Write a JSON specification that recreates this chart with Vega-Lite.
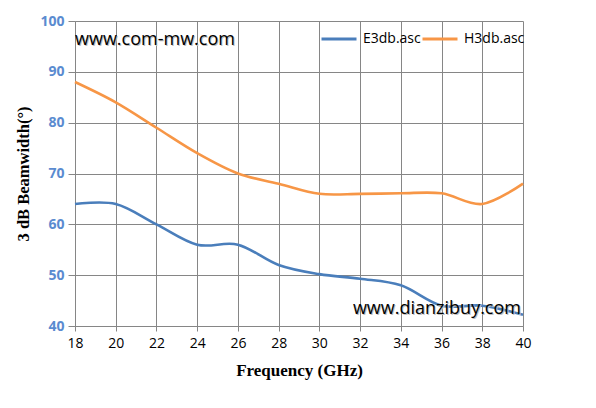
{
  "$schema": "https://vega.github.io/schema/vega-lite/v6.json",
  "width": 448,
  "height": 305,
  "padding": {"left": 75, "top": 21, "right": 73, "bottom": 82},
  "autosize": {"type": "none"},
  "background": "white",
  "config": {
    "view": {"stroke": null},
    "axis": {"gridColor": "#868686", "gridOpacity": 1, "gridWidth": 1, "domainColor": "#868686", "tickColor": "#868686"}
  },
  "datasets": {
    "curves": [
      {"freq": 18, "bw": 64, "series": "E3db.asc"},
      {"freq": 20, "bw": 64, "series": "E3db.asc"},
      {"freq": 22, "bw": 60, "series": "E3db.asc"},
      {"freq": 24, "bw": 56, "series": "E3db.asc"},
      {"freq": 26, "bw": 56, "series": "E3db.asc"},
      {"freq": 28, "bw": 52, "series": "E3db.asc"},
      {"freq": 30, "bw": 50.2, "series": "E3db.asc"},
      {"freq": 32, "bw": 49.3, "series": "E3db.asc"},
      {"freq": 34, "bw": 48, "series": "E3db.asc"},
      {"freq": 36, "bw": 44, "series": "E3db.asc"},
      {"freq": 38, "bw": 44, "series": "E3db.asc"},
      {"freq": 40, "bw": 42.2, "series": "E3db.asc"},
      {"freq": 18, "bw": 88, "series": "H3db.asc"},
      {"freq": 20, "bw": 84, "series": "H3db.asc"},
      {"freq": 22, "bw": 79, "series": "H3db.asc"},
      {"freq": 24, "bw": 74, "series": "H3db.asc"},
      {"freq": 26, "bw": 70, "series": "H3db.asc"},
      {"freq": 28, "bw": 68, "series": "H3db.asc"},
      {"freq": 30, "bw": 66, "series": "H3db.asc"},
      {"freq": 32, "bw": 66, "series": "H3db.asc"},
      {"freq": 34, "bw": 66.1, "series": "H3db.asc"},
      {"freq": 36, "bw": 66.1, "series": "H3db.asc"},
      {"freq": 38, "bw": 64, "series": "H3db.asc"},
      {"freq": 40, "bw": 68, "series": "H3db.asc"}
    ],
    "noteLeft": [
      {"freq": 18, "bw": 96.3, "label": "www.com-mw.com"}
    ],
    "noteRight": [
      {"freq": 40, "bw": 43.4, "label": "www.dianzibuy.com"}
    ]
  },
  "layer": [
    {
      "data": {"name": "curves"},
      "mark": {"type": "line", "interpolate": "cardinal", "strokeWidth": 2.6},
      "encoding": {
        "x": {
          "field": "freq", "type": "quantitative",
          "scale": {"domain": [18, 40], "nice": false, "zero": false},
          "axis": {
            "values": [18, 20, 22, 24, 26, 28, 30, 32, 34, 36, 38, 40],
            "title": "Frequency (GHz)",
            "titleFont": "Liberation Serif", "titleFontSize": 17, "titleFontWeight": "bold", "titleColor": "black",
            "titlePadding": 12,
            "labelFont": "Open Sans", "labelFontSize": 14, "labelColor": "black", "labelPadding": 5,
            "tickSize": 5, "grid": true, "labelFlush": false
          }
        },
        "y": {
          "field": "bw", "type": "quantitative",
          "scale": {"domain": [40, 100], "nice": false, "zero": false},
          "axis": {
            "values": [40, 50, 60, 70, 80, 90, 100],
            "title": "3 dB Beamwidth(°)",
            "titleFont": "Liberation Serif", "titleFontSize": 16.5, "titleFontWeight": "bold", "titleColor": "black",
            "titlePadding": 8,
            "labelFont": "Open Sans", "labelFontSize": 14, "labelFontWeight": "bold", "labelColor": "#5a8bd0", "labelPadding": 4,
            "tickSize": 7, "grid": true, "labelFlush": false
          }
        },
        "color": {
          "field": "series", "type": "nominal",
          "scale": {"domain": ["E3db.asc", "H3db.asc"], "range": ["#4a7ebb", "#f79646"]},
          "legend": {
            "title": null, "orient": "none", "legendX": 245, "legendY": -1, "direction": "horizontal", "columns": 2,
            "symbolType": "stroke", "symbolSize": 1225, "symbolStrokeWidth": 3,
            "labelFont": "Open Sans", "labelFontSize": 14, "labelColor": "black", "labelOffset": 5, "columnPadding": -10
          }
        }
      }
    },
    {
      "data": {"name": "noteLeft"},
      "mark": {"type": "text", "font": "Open Sans", "fontSize": 18, "baseline": "middle", "align": "left", "color": "#c0c0c0", "dx": 1, "dy": 1},
      "encoding": {
        "x": {"field": "freq", "type": "quantitative"},
        "y": {"field": "bw", "type": "quantitative"},
        "text": {"field": "label"}
      }
    },
    {
      "data": {"name": "noteLeft"},
      "mark": {"type": "text", "font": "Open Sans", "fontSize": 18, "baseline": "middle", "align": "left", "color": "black"},
      "encoding": {
        "x": {"field": "freq", "type": "quantitative"},
        "y": {"field": "bw", "type": "quantitative"},
        "text": {"field": "label"}
      }
    },
    {
      "data": {"name": "noteRight"},
      "mark": {"type": "text", "font": "Open Sans", "fontSize": 18, "baseline": "middle", "align": "right", "color": "#c0c0c0", "dx": -1, "dy": 1},
      "encoding": {
        "x": {"field": "freq", "type": "quantitative"},
        "y": {"field": "bw", "type": "quantitative"},
        "text": {"field": "label"}
      }
    },
    {
      "data": {"name": "noteRight"},
      "mark": {"type": "text", "font": "Open Sans", "fontSize": 18, "baseline": "middle", "align": "right", "color": "black", "dx": -2},
      "encoding": {
        "x": {"field": "freq", "type": "quantitative"},
        "y": {"field": "bw", "type": "quantitative"},
        "text": {"field": "label"}
      }
    }
  ]
}
